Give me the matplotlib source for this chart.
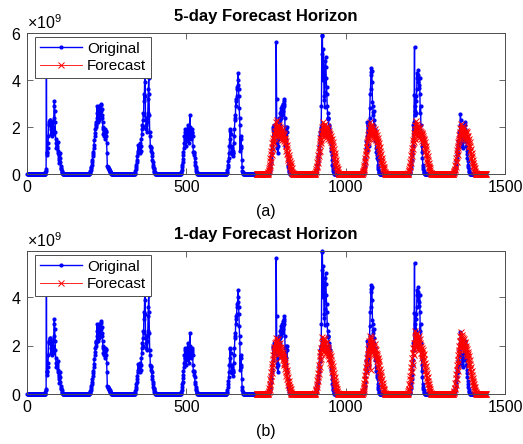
import numpy as np
import matplotlib.pyplot as plt

plt.rcParams['font.family'] = ['Liberation Sans', 'DejaVu Sans']
plt.rcParams['mathtext.fontset'] = 'custom'
plt.rcParams['mathtext.rm'] = 'Liberation Sans'

# 10-minute samples over 10 days, values in units of 1e9
N_POINTS = 1440
FC_START = 720
SCALE = 1e9

# original series: daylight windows (start index, values); nights read as zero
orig_starts = [57, 196, 338, 482, 626, 758, 905, 1055, 1200, 1340]

orig_day1 = [0.1, 0.15, 0.2, 4.6, 0.8, 0.95, 0.9, 1.1, 1.3, 1.6, 2.1, 2.2, 2.15, 2.3, 2.25,
             2.3, 2.1, 1.9, 1.7, 2.0, 1.8, 1.6, 2.2, 2.0, 1.7, 1.9, 2.4, 2.9, 3.1, 2.7, 2.2, 1.8,
             1.5, 1.3, 1.1, 1.2, 1.3, 1.1, 1.35, 1.0, 0.9, 0.7, 0.8, 0.6, 0.45, 0.7, 0.9, 0.5,
             0.35, 0.25, 0.2, 0.15, 0.1, 0.05]
orig_day2 = [0.05, 0.08, 0.12, 0.18, 0.25, 0.32, 0.4, 0.5, 0.6, 0.75, 0.85, 0.95, 1.1, 1.25,
             1.45, 1.6, 1.75, 1.9, 2.0, 2.1, 2.2, 2.15, 2.4, 2.9, 2.6, 2.2, 2.8, 2.5, 2.3, 2.7,
             2.9, 2.6, 2.4, 2.8, 2.95, 2.7, 3.0, 2.75, 2.5, 2.4, 2.2, 2.0, 1.9, 1.7, 1.8, 1.6,
             1.9, 1.75, 1.5, 1.9, 1.8, 1.6, 1.85, 1.3, 0.9, 0.35, 0.3, 0.28, 0.25, 0.22, 0.2,
             0.18, 0.15, 0.12, 0.1, 0.08, 0.06, 0.04, 0.02]
orig_day3 = [0.05, 0.12, 0.2, 0.3, 0.4, 0.5, 0.6, 0.75, 0.9, 1.0, 1.25, 1.1, 0.95, 1.2, 1.05,
             0.9, 1.3, 1.15, 1.0, 1.2, 1.5, 1.7, 1.9, 2.1, 2.0, 2.3, 2.6, 2.5, 3.4, 3.1, 3.9, 4.6,
             3.3, 2.4, 2.3, 2.1, 1.9, 2.4, 2.2, 1.8, 2.6, 3.2, 3.6, 4.1, 3.4, 2.5, 1.8, 1.6, 1.2,
             1.15, 1.1, 1.0, 0.9, 0.75, 0.6, 0.5, 0.4, 0.3, 0.25, 0.2, 0.15, 0.1, 0.07, 0.04]
orig_day4 = [0.05, 0.1, 0.18, 0.28, 0.4, 0.5, 0.65, 0.8, 0.95, 1.1, 1.3, 1.6, 1.9, 1.5, 1.8,
             1.4, 1.7, 1.2, 1.5, 1.9, 1.6, 2.1, 1.7, 1.5, 1.8, 1.3, 1.6, 2.0, 2.5, 1.9, 1.6, 1.8,
             1.7, 1.5, 1.9, 1.8, 1.75, 1.6, 1.2, 0.95, 0.9, 0.8, 0.95, 0.7, 0.5, 0.4, 0.3, 0.22,
             0.15, 0.1, 0.06, 0.03]
orig_day5 = [0.05, 0.1, 0.18, 0.28, 0.4, 0.55, 0.7, 0.9, 1.2, 1.5, 1.85, 1.9, 1.7, 1.2, 0.9,
             1.0, 0.85, 1.1, 0.9, 0.75, 1.0, 0.9, 1.3, 1.6, 1.9, 2.3, 2.5, 2.4, 3.2, 3.1, 2.9,
             3.3, 3.7, 3.6, 3.8, 4.0, 4.3, 3.6, 3.3, 2.8, 2.4, 2.1, 1.0, 1.6, 1.2, 1.5, 1.1, 0.6,
             0.3, 0.15, 0.1, 0.05]
orig_day6 = [0.05, 0.1, 0.15, 0.22, 0.3, 0.4, 0.5, 0.62, 0.75, 0.9, 1.05, 1.2, 1.4, 1.9, 2.0,
             1.8, 1.7, 2.1, 2.0, 1.85, 1.9, 1.7, 1.95, 5.6, 3.2, 1.6, 1.3, 1.1, 0.9, 1.2, 1.5,
             2.0, 2.4, 2.2, 2.3, 2.1, 2.6, 2.4, 2.8, 2.7, 2.5, 2.9, 2.6, 3.0, 2.8, 2.7, 3.1, 2.9,
             3.2, 3.0, 2.4, 1.9, 1.2, 2.0, 1.9, 1.5, 1.8, 2.0, 0.9, 0.6, 0.4, 0.3, 0.2, 0.15,
             0.1, 0.05]
orig_day7 = [0.05, 0.1, 0.15, 0.22, 0.3, 0.4, 0.5, 0.62, 0.75, 0.9, 1.05, 1.2, 1.35, 1.5, 1.65,
             1.8, 2.0, 1.9, 2.9, 5.1, 5.9, 5.87, 4.4, 4.0, 5.3, 4.6, 3.3, 3.15, 2.85, 3.5, 4.8,
             5.0, 4.55, 4.1, 3.7, 3.4, 2.9, 2.6, 2.4, 2.35, 2.4, 2.1, 2.0, 1.9, 1.6, 1.8, 1.4,
             1.1, 1.3, 1.0, 0.8, 0.6, 0.4, 0.3, 0.2, 0.15, 0.1, 0.05]
orig_day8 = [0.05, 0.1, 0.16, 0.24, 0.35, 0.5, 0.7, 0.9, 1.1, 1.4, 1.0, 1.6, 2.2, 1.8, 2.1, 1.5,
             1.2, 2.2, 1.9, 2.4, 2.8, 3.4, 3.6, 4.2, 4.5, 4.35, 4.4, 3.9, 3.07, 2.9, 2.65, 2.5,
             2.7, 2.1, 2.3, 1.9, 1.65, 1.4, 1.5, 1.1, 0.95, 0.8, 0.7, 0.95, 0.6, 0.4, 0.3, 0.2,
             0.15, 0.1, 0.05]
orig_day9 = [0.05, 0.1, 0.16, 0.24, 0.33, 0.45, 0.6, 0.8, 1.0, 1.4, 1.2, 2.1, 1.8, 2.2, 3.35,
             5.42, 2.5, 2.7, 2.9, 2.6, 3.3, 3.1, 3.6, 4.3, 4.07, 4.2, 4.43, 3.9, 4.1, 3.65, 3.8,
             4.1, 3.4, 2.6, 2.9, 2.1, 1.8, 1.5, 0.95, 1.2, 0.7, 0.4, 0.3, 0.2, 0.15, 0.1, 0.05]
orig_day10 = [0.05, 0.1, 0.15, 0.22, 0.3, 0.4, 0.55, 0.7, 0.85, 1.0, 0.9, 1.2, 1.4, 1.1, 1.3,
              1.6, 1.8, 2.1, 1.7, 2.55, 2.3, 1.95, 1.6, 1.4, 1.2, 1.3, 1.1, 1.5, 1.65, 1.4, 1.8,
              2.1, 1.9, 2.2, 2.1, 1.8, 1.6, 1.4, 1.2, 1.0, 0.85, 0.7, 0.55, 0.4, 0.3, 0.2, 0.14,
              0.1, 0.05]

# 5-day horizon forecast (daylight windows)
fc5_starts = [755, 903, 1052, 1195, 1338]
fc5_day6 = [0.03, 0.08, 0.12, 0.25, 0.18, 0.4, 0.3, 0.55, 0.7, 0.5, 0.85, 1.0, 0.8, 1.15, 1.3,
            1.05, 1.4, 1.55, 1.3, 1.7, 1.5, 1.85, 1.6, 2.0, 1.75, 2.2, 1.65, 1.9, 2.3, 1.7, 2.05,
            1.8, 1.6, 1.95, 2.1, 1.75, 1.55, 1.9, 2.0, 1.65, 1.8, 1.5, 1.95, 1.7, 1.85, 1.45,
            1.75, 1.6, 1.9, 1.5, 1.7, 1.4, 1.65, 1.55, 1.3, 1.5, 1.2, 1.4, 1.0, 1.25, 0.85, 1.1,
            0.7, 0.95, 0.6, 0.8, 0.5, 0.7, 0.4, 0.55, 0.3, 0.45, 0.22, 0.35, 0.15, 0.25, 0.1,
            0.06, 0.03]
fc5_day7 = [0.02, 0.06, 0.1, 0.2, 0.15, 0.35, 0.28, 0.5, 0.62, 0.45, 0.8, 0.95, 0.75, 1.1, 1.25,
            1.0, 1.4, 1.55, 1.3, 1.7, 1.45, 1.85, 1.6, 2.0, 1.7, 2.2, 1.8, 1.6, 2.05, 1.9, 1.65,
            2.15, 1.75, 1.95, 1.55, 1.85, 2.05, 1.7, 1.9, 1.6, 1.8, 1.95, 1.5, 1.75, 1.65, 1.85,
            1.45, 1.7, 1.55, 1.35, 1.6, 1.45, 1.25, 1.5, 1.1, 1.35, 0.95, 1.2, 0.8, 1.05, 0.65,
            0.9, 0.5, 0.75, 0.4, 0.6, 0.3, 0.45, 0.22, 0.32, 0.15, 0.2, 0.1, 0.05, 0.02]
fc5_day8 = [0.03, 0.07, 0.12, 0.22, 0.16, 0.38, 0.3, 0.55, 0.68, 0.5, 0.85, 1.0, 0.8, 1.15,
            1.35, 1.1, 1.5, 1.65, 1.4, 1.8, 1.55, 1.95, 1.7, 2.2, 1.75, 2.05, 1.6, 1.9, 2.1, 1.7,
            1.85, 2.0, 1.55, 1.8, 1.95, 1.65, 1.75, 1.5, 1.9, 1.6, 1.7, 1.45, 1.8, 1.55, 1.35,
            1.65, 1.5, 1.25, 1.55, 1.2, 1.4, 1.05, 1.3, 0.9, 1.15, 0.75, 1.0, 0.6, 0.85, 0.48,
            0.7, 0.38, 0.55, 0.28, 0.42, 0.2, 0.3, 0.14, 0.2, 0.09, 0.05, 0.02]
fc5_day9 = [0.02, 0.06, 0.11, 0.2, 0.14, 0.36, 0.28, 0.52, 0.66, 0.48, 0.82, 0.98, 0.78, 1.12,
            1.3, 1.05, 1.45, 1.6, 1.35, 1.75, 1.5, 1.9, 1.65, 2.1, 1.8, 2.25, 1.7, 2.0, 1.85,
            2.15, 1.6, 1.95, 2.05, 1.75, 1.9, 1.55, 2.0, 1.7, 1.85, 1.6, 1.8, 1.5, 1.75, 1.65,
            1.4, 1.7, 1.55, 1.3, 1.6, 1.45, 1.2, 1.5, 1.1, 1.35, 0.95, 1.2, 0.8, 1.05, 0.65, 0.9,
            0.52, 0.75, 0.42, 0.6, 0.32, 0.46, 0.24, 0.34, 0.16, 0.24, 0.1, 0.06, 0.03]
fc5_day10 = [0.03, 0.07, 0.12, 0.22, 0.17, 0.4, 0.3, 0.56, 0.7, 0.52, 0.88, 1.02, 0.82, 1.18,
             1.35, 1.1, 1.5, 1.65, 1.4, 1.8, 1.55, 1.95, 1.7, 2.15, 1.75, 2.0, 1.6, 1.9, 2.05,
             1.7, 1.85, 1.55, 1.95, 1.65, 1.8, 1.5, 1.75, 1.6, 1.85, 1.45, 1.7, 1.55, 1.8, 1.6,
             1.35, 1.6, 1.45, 1.25, 1.5, 1.15, 1.35, 1.0, 1.2, 0.85, 1.05, 0.7, 0.9, 0.55, 0.75,
             0.45, 0.6, 0.35, 0.48, 0.26, 0.36, 0.18, 0.26, 0.12, 0.07, 0.03]

# 1-day horizon forecast (daylight windows)
fc1_starts = [756, 903, 1052, 1194, 1338]
fc1_day6 = [0.03, 0.07, 0.12, 0.24, 0.18, 0.42, 0.33, 0.6, 0.75, 0.55, 0.92, 1.1, 0.88, 1.25,
            1.45, 1.2, 1.6, 1.8, 1.5, 1.95, 1.7, 2.1, 1.85, 2.3, 1.8, 2.15, 1.95, 1.7, 2.2, 2.0,
            1.75, 2.25, 1.9, 2.05, 1.65, 1.95, 2.1, 1.8, 1.5, 1.95, 1.7, 1.85, 1.55, 1.8, 1.6,
            1.75, 1.4, 1.65, 1.5, 1.3, 1.55, 1.2, 1.4, 1.05, 1.3, 0.9, 1.15, 0.75, 1.0, 0.6,
            0.85, 0.48, 0.7, 0.38, 0.55, 0.28, 0.42, 0.2, 0.3, 0.14, 0.2, 0.09, 0.05, 0.02]
fc1_day7 = [0.02, 0.06, 0.11, 0.22, 0.16, 0.4, 0.3, 0.56, 0.7, 0.52, 0.88, 1.05, 0.82, 1.2, 1.4,
            1.1, 1.55, 1.75, 1.45, 1.9, 1.65, 2.1, 1.8, 2.35, 1.9, 2.2, 1.75, 2.05, 2.3, 1.85,
            2.1, 1.95, 2.25, 1.7, 2.0, 1.85, 2.15, 1.75, 1.95, 1.6, 1.9, 1.7, 1.8, 1.55, 1.75,
            1.45, 1.65, 1.5, 1.3, 1.55, 1.2, 1.4, 1.05, 1.3, 0.9, 1.15, 0.75, 1.0, 0.62, 0.85,
            0.5, 0.7, 0.4, 0.55, 0.3, 0.42, 0.2, 0.3, 0.13, 0.2, 0.08, 0.04, 0.02]
fc1_day8 = [0.03, 0.07, 0.13, 0.25, 0.18, 0.44, 0.34, 0.62, 0.78, 0.58, 0.95, 1.12, 0.9, 1.3,
            1.5, 1.2, 1.65, 1.85, 1.55, 2.0, 1.75, 2.2, 1.9, 2.4, 1.95, 2.25, 1.0, 2.1, 2.35,
            1.85, 2.05, 1.7, 2.2, 1.9, 2.0, 1.65, 1.95, 1.8, 2.05, 1.6, 1.85, 1.7, 1.5, 1.8,
            1.55, 1.35, 1.65, 1.45, 1.25, 1.5, 1.1, 1.35, 0.95, 1.2, 0.8, 1.05, 0.65, 0.9, 0.52,
            0.75, 0.4, 0.6, 0.3, 0.45, 0.22, 0.32, 0.15, 0.22, 0.1, 0.05, 0.02]
fc1_day9 = [0.02, 0.06, 0.12, 0.22, 0.16, 0.42, 0.32, 0.6, 0.76, 0.56, 0.94, 1.12, 0.9, 1.3,
            1.5, 1.2, 1.7, 1.9, 1.6, 2.1, 1.85, 2.3, 2.0, 2.6, 2.1, 2.45, 1.9, 2.35, 2.15, 2.5,
            2.0, 2.3, 1.85, 2.2, 2.05, 2.4, 1.8, 2.1, 1.95, 2.25, 1.7, 2.0, 1.85, 1.6, 1.9, 1.7,
            1.5, 1.8, 1.55, 1.35, 1.65, 1.25, 1.45, 1.1, 1.3, 0.95, 1.15, 0.8, 1.0, 0.65, 0.85,
            0.52, 0.7, 0.4, 0.55, 0.3, 0.42, 0.22, 0.3, 0.14, 0.2, 0.09, 0.05, 0.02]
fc1_day10 = [0.03, 0.08, 0.14, 0.26, 0.2, 0.46, 0.36, 0.66, 0.82, 0.62, 1.0, 1.2, 0.95, 1.4,
             1.6, 1.3, 1.8, 2.0, 1.7, 2.2, 1.95, 2.4, 2.1, 2.55, 2.15, 2.45, 2.0, 2.35, 2.2,
             1.95, 2.3, 2.05, 2.25, 1.85, 2.15, 1.95, 2.1, 1.8, 2.0, 1.7, 1.9, 1.6, 1.85, 1.55,
             1.75, 1.45, 1.65, 1.3, 1.55, 1.2, 1.4, 1.05, 1.25, 0.9, 1.1, 0.75, 0.95, 0.6, 0.8,
             0.48, 0.65, 0.38, 0.52, 0.28, 0.4, 0.2, 0.28, 0.13, 0.18, 0.08, 0.04, 0.02]

titles = ['5-day Forecast Horizon', '1-day Forecast Horizon']
captions = ['(a)', '(b)']


def assemble(starts, days, offset, length):
  series = np.zeros(length)
  for s, vals in zip(starts, days):
    series[s - offset:s - offset + len(vals)] = vals
  return series * SCALE


def style_axes(ax):
  for sp in ax.spines.values():
    sp.set_color('0.3')
    sp.set_linewidth(0.7)
  ax.tick_params(direction='in', length=4, width=0.6, color='0.3',
                 top=True, right=True, labelsize=11.5, pad=4)
  ax.set_xlim(0, 1500)
  ax.set_xticks([0, 500, 1000, 1500])
  ax.ticklabel_format(axis='y', style='sci', scilimits=(9, 9), useMathText=True)
  ax.yaxis.get_offset_text().set_fontsize(11.5)


def main():
  orig = assemble(orig_starts, [orig_day1, orig_day2, orig_day3, orig_day4, orig_day5,
                                orig_day6, orig_day7, orig_day8, orig_day9, orig_day10],
                  0, N_POINTS)
  fc5 = assemble(fc5_starts, [fc5_day6, fc5_day7, fc5_day8, fc5_day9, fc5_day10],
                 FC_START, N_POINTS - FC_START)
  fc1 = assemble(fc1_starts, [fc1_day6, fc1_day7, fc1_day8, fc1_day9, fc1_day10],
                 FC_START, N_POINTS - FC_START)
  x_orig = np.arange(1, N_POINTS + 1)
  x_fc = np.arange(FC_START + 1, N_POINTS + 1)

  fig = plt.figure(figsize=(5.23, 4.44), dpi=100)
  ax_top = fig.add_axes([0.0516, 0.608, 0.914, 0.3176])
  ax_bot = fig.add_axes([0.0516, 0.1126, 0.914, 0.322])

  for ax, fc, title, cap in zip([ax_top, ax_bot], [fc5, fc1], titles, captions):
    ax.plot(x_orig, orig, '.-', color=(0, 0, 1), lw=1.0, ms=4, label='Original',
            clip_on=False)
    ax.plot(x_fc, fc, 'x-', color=(1, 0, 0), lw=0.6, ms=4.5, mew=0.7, label='Forecast',
            clip_on=False)
    style_axes(ax)
    ax.set_title(title, fontsize=12, fontweight='bold', pad=9)
    ax.set_xlabel(cap, fontsize=11.5, labelpad=7)
    leg = ax.legend(loc='upper left', bbox_to_anchor=(0.017, 0.972), borderaxespad=0,
                    fontsize=11, frameon=True, fancybox=False, framealpha=1,
                    edgecolor='0.3', handlelength=2.8, handletextpad=0.3,
                    borderpad=0.3, labelspacing=0.25)
    leg.get_frame().set_linewidth(0.7)
    leg.set_zorder(5)

  ax_top.set_ylim(0, 6e9)
  ax_top.set_yticks([0, 2e9, 4e9, 6e9])
  ax_bot.set_ylim(0, orig.max())
  ax_bot.set_yticks([0, 2e9, 4e9])

  fig.savefig('out.png', dpi=100)


if __name__ == '__main__':
  main()
